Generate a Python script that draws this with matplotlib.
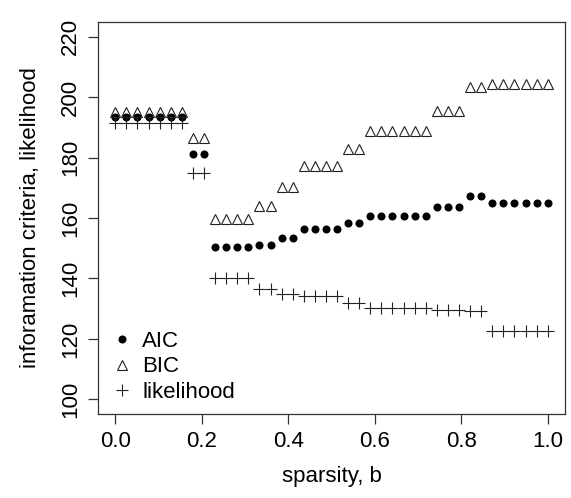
import numpy as np
import matplotlib
matplotlib.use("Agg")
import matplotlib.pyplot as plt

plt.rcParams['font.family'] = ['Liberation Sans', 'DejaVu Sans']

# sparsity grid: 40 points from 0 to 1
sparsity = np.linspace(0, 1, 40)

# group sizes along sparsity and the per-group values
group_sizes = [7, 2, 4, 2, 2, 4, 2, 6, 3, 2, 6]
aic_levels = [193.5, 181.0, 150.3, 151.0, 153.5, 156.5, 158.3, 160.5, 163.5, 167.3, 165.0]
bic_levels = [195.0, 186.3, 159.7, 164.0, 170.3, 177.2, 182.7, 188.8, 195.5, 203.3, 204.4]
lik_levels = [191.5, 175.0, 140.2, 136.5, 135.0, 134.2, 132.0, 130.3, 129.6, 129.2, 122.7]

aic = np.repeat(aic_levels, group_sizes)
bic = np.repeat(bic_levels, group_sizes)
lik = np.repeat(lik_levels, group_sizes)

xticks = [0.0, 0.2, 0.4, 0.6, 0.8, 1.0]
xtick_labels = ["0.0", "0.2", "0.4", "0.6", "0.8", "1.0"]
yticks = [100, 120, 140, 160, 180, 200, 220]

W, H = 571, 498
fig = plt.figure(figsize=(W / 100, H / 100), dpi=100)
ax = fig.add_axes([98 / W, 1 - 414 / H, (565 - 98) / W, (414 - 22) / H])

ax.plot(sparsity, aic, linestyle='none', marker='o', ms=5.8, color='black',
        markeredgewidth=0, label='AIC')
ax.plot(sparsity, bic, linestyle='none', marker='^', ms=6.8, markerfacecolor='none',
        markeredgecolor='#222222', markeredgewidth=0.8, label='BIC')
ax.plot(sparsity, lik, linestyle='none', marker='+', ms=8.5, color='#222222',
        markeredgewidth=0.8, label='likelihood')

ax.set_xlim(-0.04, 1.04)
ax.set_ylim(95.2, 224.8)
ax.set_xticks(xticks)
ax.set_xticklabels(xtick_labels)
ax.set_yticks(yticks)
ax.set_yticklabels([str(v) for v in yticks], rotation=90, va='center')

ax.tick_params(direction='out', length=7, width=0.9, labelsize=16, pad=5,
               color='#333333')
for s in ax.spines.values():
    s.set_linewidth(0.9)
    s.set_color('#333333')

ax.set_xlabel("sparsity, b", fontsize=16, labelpad=10)
ax.set_ylabel("inforamation criteria, likelihood", fontsize=16, labelpad=14)

leg = ax.legend(loc='lower left', bbox_to_anchor=(0.0, 0.0), frameon=False,
                fontsize=16, handletextpad=0.3, labelspacing=0.2,
                borderaxespad=0.2, handlelength=1.2, borderpad=0.3)

fig.savefig("out.png", dpi=100)
